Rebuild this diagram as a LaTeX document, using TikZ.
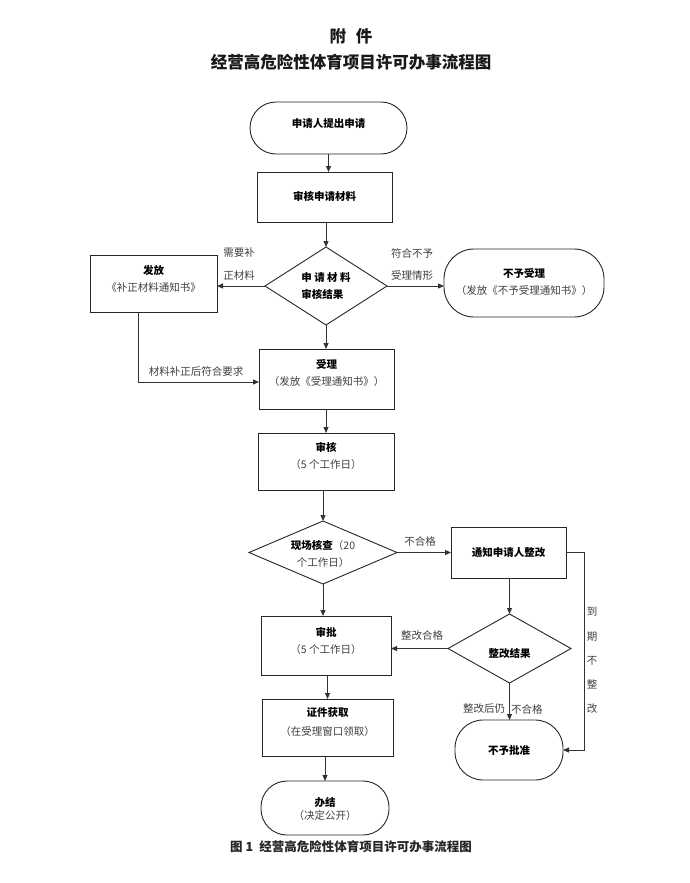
\documentclass[tikz,border=0pt]{standalone}
\usepackage{fontspec}
\setmainfont{Noto Sans CJK SC}
\usetikzlibrary{arrows.meta,shapes.geometric}
\newcommand\boldtxt[1]{{\bfseries\color{black}#1}}
\begin{document}
\begin{tikzpicture}[x=1pt,y=-1pt,
  every node/.style={inner sep=0pt,outer sep=0pt},
  box/.style={draw=black!85,line width=0.9pt,rectangle},
  term/.style={draw=black!85,line width=0.9pt,rectangle},
  dia/.style={draw=black!85,line width=0.9pt,diamond},
  txt/.style={align=center,font=\fontsize{10.5}{17}\selectfont,text=black!75},
  lbl/.style={font=\fontsize{10.5}{13}\selectfont,text=black!75},
  arr/.style={draw=black!80,line width=0.9pt,-{Triangle[length=6pt,width=5pt]}},
  ttl/.style={font=\fontsize{16.5}{20}\selectfont\bfseries,text=black!90},
]
\path[use as bounding box,fill=white] (0,0) rectangle (690,883);

% titles
\node[ttl] (t1) at (351,36) {附\hspace{0.6em}件};
\node[ttl] (t2) at (351,62) {经营高危险性体育项目许可办事流程图};
\node[font=\fontsize{12.5}{15}\selectfont\bfseries,text=black!85] (cap) at (351,847) {图 1\hspace{0.5em}经营高危险性体育项目许可办事流程图};

% shapes
\node[term,rounded corners=26pt,minimum width=157pt,minimum height=52pt] (start) at (328.5,128) {};
\node[box,minimum width=135pt,minimum height=50pt] (rev) at (324.5,197) {};
\node[dia,minimum width=122pt,minimum height=78pt] (d1) at (326,286) {};
\node[box,minimum width=127pt,minimum height=57pt] (bz) at (153.5,283.5) {};
\node[term,rounded corners=30pt,minimum width=160pt,minimum height=68pt] (na) at (524,283) {};
\node[box,minimum width=135pt,minimum height=60pt] (acc) at (326.5,379) {};
\node[box,minimum width=136pt,minimum height=57pt] (aud) at (326,461.5) {};
\node[dia,minimum width=148pt,minimum height=63pt] (d2) at (323,552.5) {};
\node[box,minimum width=115pt,minimum height=51pt] (ntf) at (508.5,552.5) {};
\node[box,minimum width=130pt,minimum height=59pt] (apr) at (326,645.5) {};
\node[dia,minimum width=123pt,minimum height=69pt] (d3) at (509.5,648.5) {};
\node[term,rounded corners=28pt,minimum width=108pt,minimum height=60pt] (rej) at (509,750) {};
\node[box,minimum width=131pt,minimum height=57pt] (cert) at (327.5,727.5) {};
\node[term,rounded corners=26pt,minimum width=128pt,minimum height=54pt] (done) at (325,808) {};

% texts in shapes
\node[txt] (startT) at ([yshift=4pt]start.center) {\boldtxt{申请人提出申请}};
\node[txt] (revT) at ([yshift=1pt]rev.center) {\boldtxt{审核申请材料}};
\node[txt,align=left] (d1T) at ([yshift=-0.5pt]d1.center) {\boldtxt{申 请 材 料}\\\boldtxt{审核结果}};
\node[txt] (bzT) at ([yshift=5pt]bz.center) {\boldtxt{发放}\\《补正材料通知书》};
\node[txt] (naT) at ([yshift=1.5pt]na.center) {\boldtxt{不予受理}\\（发放《不予受理通知书》）};
\node[txt] (accT) at ([yshift=6pt]acc.center) {\boldtxt{受理}\\（发放《受理通知书》）};
\node[txt] (audT) at ([yshift=6pt]aud.center) {\boldtxt{审核}\\（5 个工作日）};
\node[txt] (d2T) at ([yshift=-1.5pt]d2.center) {\boldtxt{现场核查}（20\\个工作日）};
\node[txt] (ntfT) at (ntf.center) {\boldtxt{通知申请人整改}};
\node[txt] (aprT) at ([yshift=5pt]apr.center) {\boldtxt{审批}\\（5 个工作日）};
\node[txt] (d3T) at ([yshift=-4.5pt]d3.center) {\boldtxt{整改结果}};
\node[txt] (rejT) at ([yshift=-1pt]rej.center) {\boldtxt{不予批准}};
\node[txt] (certT) at ([yshift=5pt]cert.center) {\boldtxt{证件获取}\\[2pt]（在受理窗口领取）};
\node[txt] (doneT) at ([yshift=-0.5pt]done.center) {\boldtxt{办结}\\[-4pt]（决定公开）};

% connectors
\draw[arr] (start.south) -- (start.south |- rev.north);
\draw[arr] (rev.south -| d1.north) -- (d1.north);
\draw[arr] (d1.west) -- (d1.west -| bz.east);
\draw[arr] (d1.east) -- (d1.east -| na.west);
\draw[arr] ([xshift=-15.5pt]bz.south) |- ([yshift=-3pt]acc.west);
\draw[arr] (d1.south) -- (d1.south |- acc.north);
\draw[arr] (acc.south -| aud.north) -- (aud.north);
\draw[arr] (aud.south -| d2.north) -- (d2.north);
\draw[arr] (d2.east) -- (d2.east -| ntf.west);
\draw[arr] (d2.south) -- (d2.south |- apr.north);
\draw[arr] (ntf.south -| d3.north) -- (d3.north);
\draw[arr] (d3.west) -- (d3.west -| apr.east);
\draw[arr] (d3.south) -- (d3.south |- rej.north);
\draw[arr] (ntf.east) -- ++(18,0) |- (rej.east);
\draw[arr] (apr.south -| cert.north) -- (cert.north);
\draw[arr] (cert.south -| done.north) -- (done.north);

% connector labels
\node[lbl] (l1a) at (239,253) {需要补};
\node[lbl] (l1b) at (239,276) {正材料};
\node[lbl] (l2a) at (412,253) {符合不予};
\node[lbl] (l2b) at (412,276) {受理情形};
\node[lbl] (l3) at (196,372) {材料补正后符合要求};
\node[lbl] (l4) at (420,541) {不合格};
\node[lbl] (l5) at (422,636) {整改合格};
\node[lbl,anchor=east] (l6a) at (505,709) {整改后仍};
\node[lbl,anchor=west] (l6b) at (511,709) {不合格};
\node[lbl,align=center,font=\fontsize{10.5}{24.3}\selectfont] (l7) at (592,660.5) {到\\期\\不\\整\\改};
\end{tikzpicture}
\end{document}
